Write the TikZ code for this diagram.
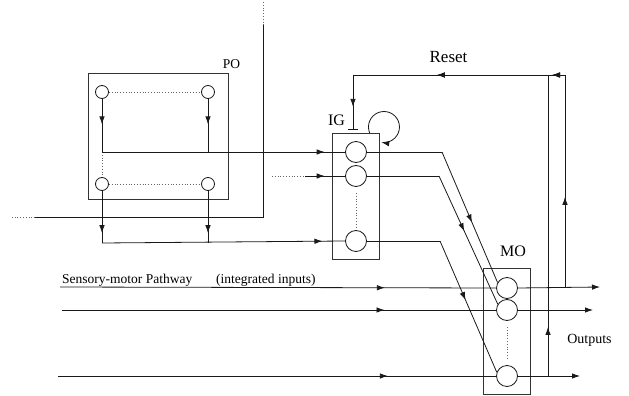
\documentclass[tikz,border=0pt]{standalone}
\usepackage{fontspec}
\setmainfont{Liberation Serif}
\usetikzlibrary{arrows.meta,decorations.markings}
\tikzset{
  ln/.style={draw=black!90, line width=0.8pt},
  dotln/.style={draw=black!60, line width=0.8pt, dotted},
  box/.style={draw=black!80, line width=0.8pt},
  unit/.style={circle, draw=black!90, line width=0.8pt, inner sep=0pt, minimum size=21pt},
  punit/.style={circle, draw=black!90, line width=0.8pt, inner sep=0pt, minimum size=13pt},
  tip/.style={-{Latex[length=8pt,width=5.5pt]}},
  arrowat/.style={postaction={decorate}, decoration={markings, mark=at position #1 with {\arrow{Latex[length=8pt,width=5.5pt]}}}},
  lbl/.style={inner sep=0pt, anchor=base},
  txt/.style={inner sep=0pt, anchor=base west, font=\fontsize{13.5}{15}\selectfont},
}
\begin{document}
\begin{tikzpicture}[x=1pt, y=-1pt]
\useasboundingbox (0,0) rectangle (629,396);

% ---- PO ----
\draw[box] (88,73) rectangle (228,199);
\node[lbl, font=\fontsize{13.5}{15}\selectfont] (POl) at (231.5,69) {PO};
\node[punit] (p1) at (102,92) {};
\node[punit] (p2) at (208,92) {};
\node[punit] (p3) at (102,184) {};
\node[punit] (p4) at (208,184) {};
\draw[dotln] (p1.east) -- (p2.west);
\draw[dotln] (p3.east) -- (p4.west);
\coordinate (j1) at (102,152);
\coordinate (j2) at (208,152);
\coordinate (j3) at (102,243);
\coordinate (j4) at (208,243);
\draw[ln, arrowat=0.48] (p1.south) -- (j1);
\draw[ln, arrowat=0.48] (p2.south) -- (j2);
\draw[dotln] (j1) -- (p3.north);
\draw[ln, arrowat=0.81] (p3.south) -- (j3);
\draw[ln, arrowat=0.81] (p4.south) -- (j4);

% ---- long bent line ----
\coordinate (t0) at (263,2);
\coordinate (t1) at (263,25);
\coordinate (t2) at (263,217);
\coordinate (t3) at (35,217);
\coordinate (t4) at (12,217);
\draw[dotln] (t0) -- (t1);
\draw[ln] (t1) -- (t2) -- (t3);
\draw[dotln] (t3) -- (t4);

% ---- IG ----
\draw[box] (332,133) rectangle (379,259);
\node[lbl, font=\fontsize{16}{18}\selectfont] (IGl) at (336.5,125) {IG};
\node[unit] (g1) at (356,152) {};
\node[unit] (g2) at (356,176) {};
\node[unit] (g3) at (356,241) {};
\draw[dotln] (356,193) -- (356,227);
\draw[ln, arrowat=0.916] (j1) -- (g1.west);
\draw[ln, arrowat=0.907] (j3) -- (g3.west);
\coordinate (d0) at (272,176);
\coordinate (d1) at (305,176);
\draw[dotln] (d0) -- (d1);
\draw[ln, arrowat=0.49] (d1) -- (g2.west);

% self loop
\draw[ln, tip] (369.6,132.8) arc[start angle=158, end angle=460, radius=15.5];

% inhibition bar
\coordinate (inh) at (353,129);
\draw[ln] (348,129) -- (358,129);

% ---- MO ----
\draw[box] (483,268) rectangle (530,394);
\node[lbl, font=\fontsize{16}{18}\selectfont] (MOl) at (513,256) {MO};
\node[unit] (m1) at (507,288) {};
\node[unit] (m2) at (507,310) {};
\node[unit] (m3) at (507,376) {};
\draw[dotln] (507,327) -- (507,360);

% IG -> MO
\coordinate (k1) at (442,152);
\coordinate (k2) at (439,176);
\coordinate (k3) at (440,241);
\draw[ln] (g1.east) -- (k1);
\draw[ln, arrowat=0.54] (k1) -- (m1.150);
\draw[ln] (g2.east) -- (k2);
\draw[ln, arrowat=0.43] (k2) -- (m2.148);
\draw[ln] (g3.east) -- (k3);
\draw[ln, arrowat=0.45] (k3) -- (m3.160);

% sensory-motor pathway
\coordinate (s1) at (60,287);
\coordinate (s2) at (62,310);
\coordinate (s3) at (58,376);
\draw[ln, arrowat=0.745] (s1) -- (m1.west);
\draw[ln, arrowat=0.743] (s2) -- (m2.west);
\draw[ln, arrowat=0.753] (s3) -- (m3.west);
\node[txt] (sm1) at (62,283) {Sensory-motor Pathway};
\node[txt] (sm2) at (216,283) {(integrated inputs)};

% outputs
\coordinate (o1) at (600,287);
\coordinate (o2) at (593,310);
\coordinate (o3) at (580,376);
\draw[ln, tip] (m1.east) -- (o1);
\draw[ln, tip] (m2.east) -- (o2);
\draw[ln, tip] (m3.east) -- (o3);
\node[lbl, font=\fontsize{14}{16}\selectfont] (outl) at (589.5,343) {Outputs};

% reset feedback
\coordinate (r1) at (565,287);
\coordinate (r2) at (565,75);
\coordinate (r3) at (353,75);
\coordinate (r4) at (548,376);
\coordinate (r5) at (548,75);
\draw[ln, arrowat=0.425] (r1) -- (r2);
\draw[ln, arrowat=0.0613, arrowat=0.604] (r2) -- (r3);
\draw[ln, arrowat=0.59] (r3) -- (inh);
\draw[ln, arrowat=0.163] (r4) -- (r5);
\node[lbl, font=\fontsize{17}{19}\selectfont] (resetl) at (448.5,63) {Reset};
\end{tikzpicture}
\end{document}
